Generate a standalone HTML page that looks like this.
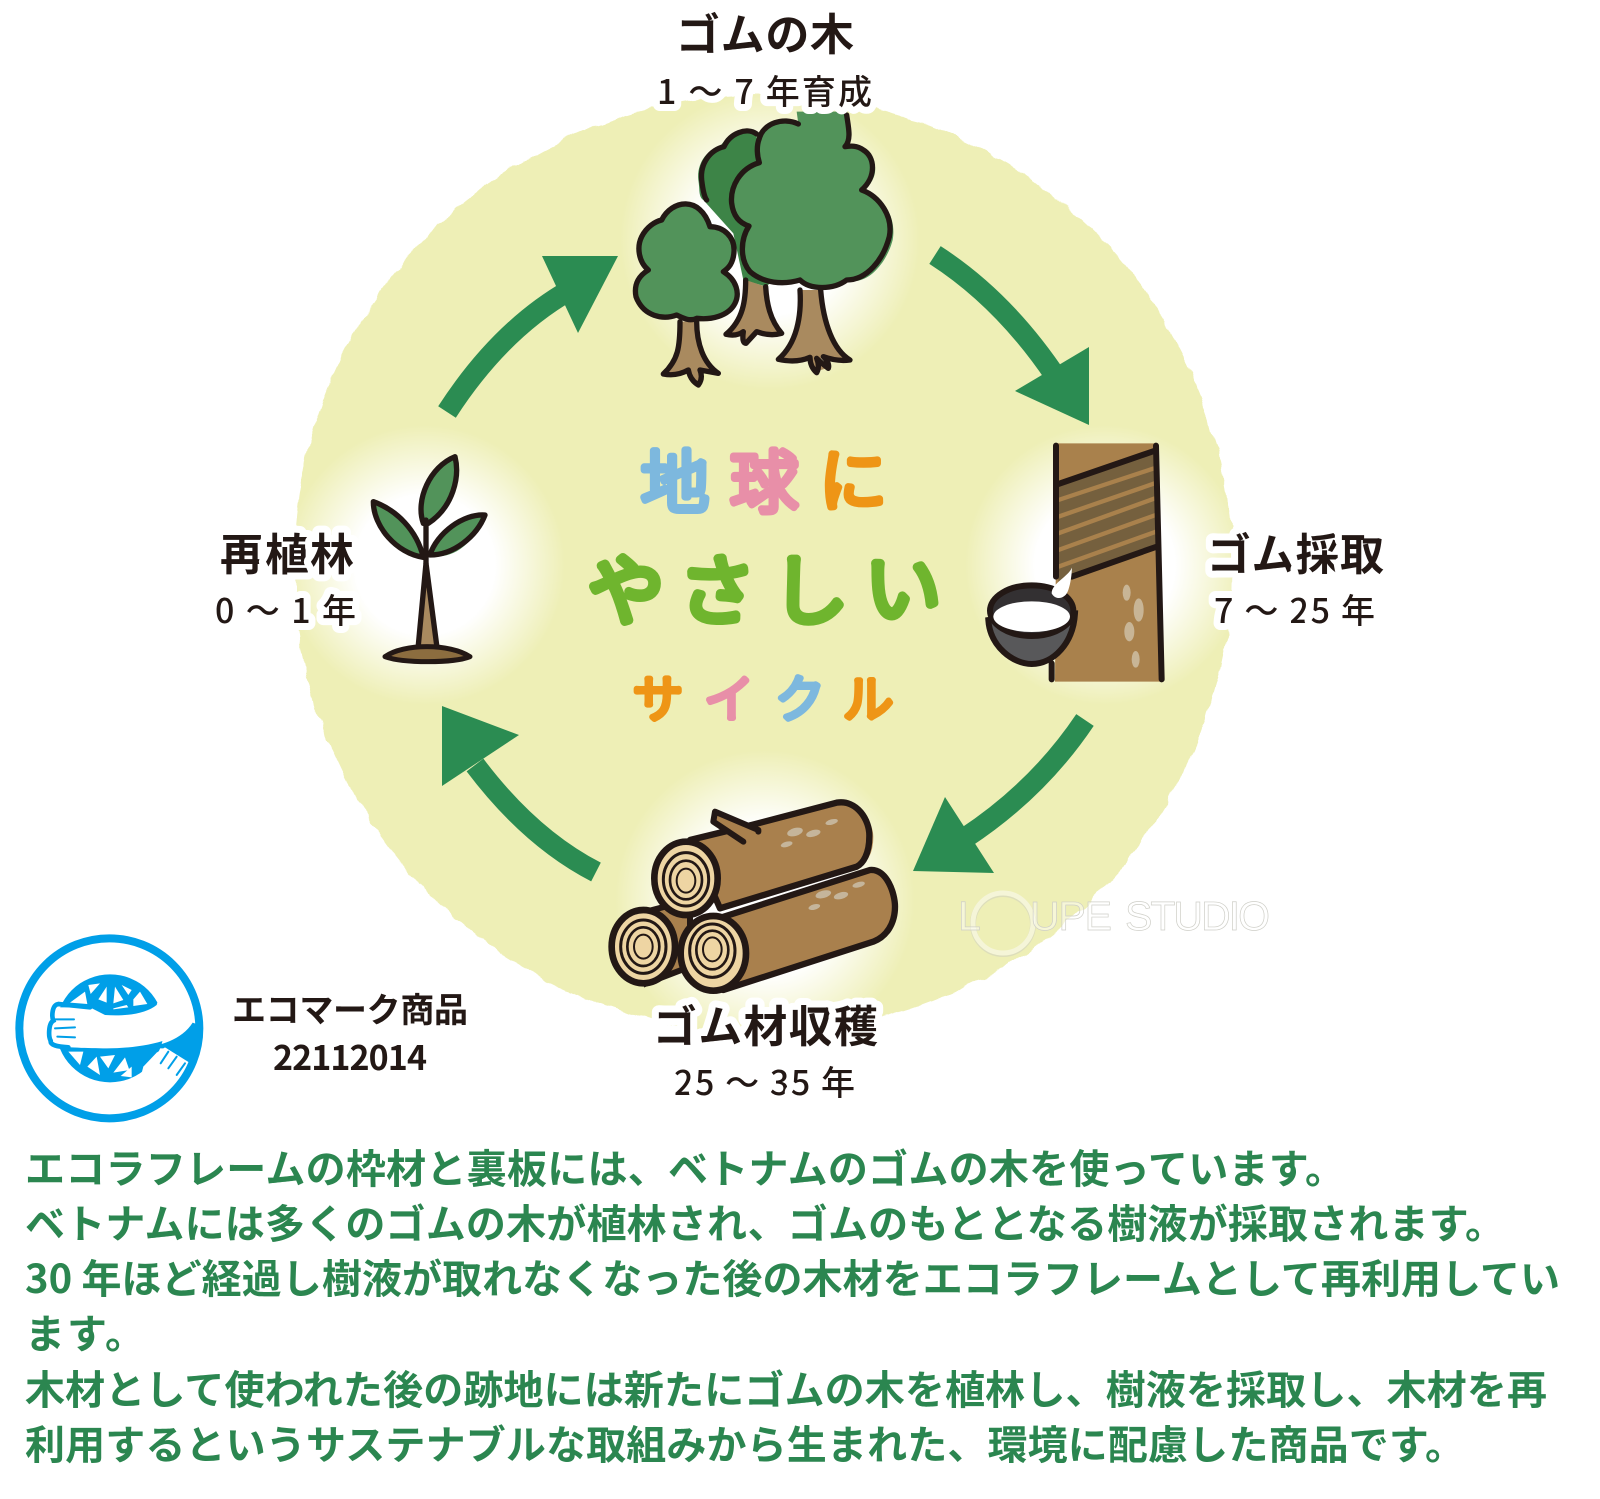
<!DOCTYPE html>
<html lang="ja"><head><meta charset="utf-8"><title>地球にやさしいサイクル</title>
<style>
html,body{margin:0;padding:0;background:#fff;width:1600px;height:1499px;overflow:hidden}
svg{display:block}
text{font-family:"Noto Sans CJK JP","Liberation Sans",sans-serif}
.h{font-size:44px;font-weight:700;fill:#231815;stroke:#fff;stroke-width:14px;paint-order:stroke;stroke-linejoin:round}
.s{font-size:34px;font-weight:500;fill:#231815;stroke:#fff;stroke-width:14px;paint-order:stroke;stroke-linejoin:round}
.b{font-size:40px;font-weight:700;fill:#2b8650}
.k{stroke-linejoin:round;stroke-linecap:round;font-weight:300}
.l{stroke:#231815;stroke-linecap:round;stroke-linejoin:round;fill:none}
.w{font-family:"Liberation Sans",sans-serif;font-size:41px;fill:#fff;fill-opacity:.45;stroke:#cfcfc8;stroke-width:.7}
</style></head><body>
<svg xmlns="http://www.w3.org/2000/svg" width="1600" height="1499" viewBox="0 0 1600 1499">
<defs>
<filter id="rough" filterUnits="userSpaceOnUse" x="260" y="60" width="1020" height="1000">
<feTurbulence type="fractalNoise" baseFrequency="0.05" numOctaves="2" seed="4"/>
<feDisplacementMap in="SourceGraphic" scale="9" xChannelSelector="R" yChannelSelector="G"/>
</filter>
<radialGradient id="glow"><stop offset="0" stop-color="#fff"/><stop offset=".5" stop-color="#fff"/><stop offset="1" stop-color="#fff" stop-opacity="0"/></radialGradient>
</defs>

<circle cx="763" cy="564" r="469" fill="#eeefb6" filter="url(#rough)"/>
<circle cx="770" cy="240" r="150" fill="url(#glow)"/>
<circle cx="1105" cy="565" r="140" fill="url(#glow)"/>
<circle cx="425" cy="565" r="140" fill="url(#glow)"/>
<circle cx="765" cy="900" r="150" fill="url(#glow)"/>

<!-- arrows -->
<g fill="none" stroke="#2b8c52" stroke-width="21">
<path d="M935 255Q1005 300 1058 380"/>
<path d="M1085 720Q1038 790 965 838"/>
<path d="M596 872Q530 838 475 765"/>
<path d="M447 412Q500 330 570 290"/>
</g>
<g fill="#2b8c52">
<polygon points="1089,347 1015,391 1089,425"/>
<polygon points="945,797 913,871 994,873"/>
<polygon points="442,706 519,735 442,786"/>
<polygon points="618,256 542,256 578,333"/>
</g>

<!-- trees -->
<g transform="translate(600 0) scale(.33333)">
<path d="M470 400C440 380 385 400 360 440C320 450 290 490 295 540C300 570 295 590 310 600L400 700L430 840L500 860L640 700L470 500Z" fill="#3d8447"/>
<path class="l" stroke-width="16" d="M470 402C440 380 390 400 372 440C330 450 300 490 305 540C308 565 312 590 320 600"/>
<path d="M437 840C437 900 430 960 378 1000L430 1000L435 1030L470 995L545 1000C510 960 500 910 497 860Z" fill="#a98a5f"/>
<path class="l" stroke-width="16" d="M437 840C437 900 430 960 378 1003Q410 1010 430 995Q425 1030 438 1030L470 995Q510 1010 545 1000C510 960 500 910 497 860"/>
<path d="M600 870C605 950 590 1030 535 1078L630 1075L645 1115L680 1105L660 1075L750 1080C700 1050 670 970 662 870Z" fill="#a98a5f"/>
<path class="l" stroke-width="16" d="M600 870C605 950 590 1030 535 1078Q590 1090 630 1072Q630 1100 650 1118Q660 1100 650 1075Q665 1090 685 1105Q690 1090 670 1070Q710 1085 750 1080C700 1050 670 970 662 870"/>
<path d="M595 372C550 350 490 370 478 415C468 440 472 470 478 488C420 505 390 560 395 610C400 650 420 670 447 678C420 720 420 780 450 815C490 850 550 855 600 840C630 870 700 870 740 840C800 860 860 790 878 720C890 650 850 590 790 570C835 540 840 480 790 450C770 435 750 438 735 440C755 420 745 380 740 335L590 335Z" fill="#52935a"/>
<path class="l" stroke-width="16" d="M595 372C550 350 490 370 478 415C468 440 472 470 478 488C420 505 390 560 395 610C400 650 420 670 447 678C420 720 420 780 450 815C490 850 550 855 600 840C630 870 700 870 740 840C800 840 850 780 868 710C880 650 840 590 785 570C830 530 825 470 790 450C770 435 750 438 735 440C755 420 745 380 740 345"/>
<path d="M240 965C240 1040 235 1080 190 1122L265 1112L295 1155L305 1115L355 1120C310 1090 290 1030 290 965Z" fill="#a98a5f"/>
<path class="l" stroke-width="16" d="M240 965C240 1040 235 1080 190 1122Q230 1130 265 1110Q270 1140 295 1155Q310 1135 300 1110L355 1120C310 1090 290 1030 290 965"/>
<path d="M185 660C215 600 300 585 330 680C370 680 405 710 402 755C400 790 385 805 370 815C410 840 420 880 405 910C385 950 330 960 290 955C270 965 250 955 230 945C190 960 130 950 108 890C100 850 120 825 145 810C115 785 110 740 125 710C140 680 165 665 185 660Z" fill="#52935a" stroke="#231815" stroke-width="16" stroke-linejoin="round"/>
</g>

<!-- tapper -->
<g transform="translate(940 400) scale(.33333)">
<polygon points="350,130 650,130 665,845 345,845" fill="#a9814c"/>
<polygon points="355,255 645,155 650,440 355,545" fill="#75603e"/>
<g stroke="#a9814c" stroke-width="13"><path d="M355 300L642 205M355 350L644 250M355 400L645 295M355 450L647 345M355 500L648 395"/></g>
<g class="l" stroke-width="18"><path d="M348 137V530M335 790V838M648 137L665 838M355 252L645 152M395 530L650 440"/></g>
<g fill="#c8b596"><ellipse cx="560" cy="578" rx="12" ry="24"/><ellipse cx="596" cy="630" rx="15" ry="35"/><ellipse cx="568" cy="695" rx="15" ry="29"/><ellipse cx="587" cy="778" rx="12" ry="25"/></g>
<path d="M145 660C150 740 220 792 275 792C340 792 400 730 405 640L275 640Z" fill="#58585a" stroke="#231815" stroke-width="18"/>
<ellipse cx="275" cy="632" rx="125" ry="76" fill="#333032" stroke="#231815" stroke-width="18"/>
<ellipse cx="275" cy="650" rx="115" ry="46" fill="#fff"/>
<path d="M396 503C385 530 335 550 335 580C345 600 375 600 385 570C392 550 395 525 396 503Z" fill="#fff"/>
</g>

<!-- logs -->
<g transform="translate(580 780) scale(.33333)">
<path d="M180 400L330 360L330 560L200 610Z" fill="#a9804d" stroke="#231815" stroke-width="18"/>
<path d="M405 95L535 150L495 185L395 120Z" fill="#a9804d"/>
<path d="M330 180L515 135L770 68C830 58 880 120 880 170C880 225 860 250 830 262L420 385Z" fill="#c69a63"/>
<path d="M330 180L515 135L770 68C830 58 870 120 868 170C868 220 850 250 830 260L420 385Z" fill="#a9804d" stroke="#231815" stroke-width="19" stroke-linejoin="round"/>
<path d="M405 95L530 150L495 183L395 125Z" fill="#a9804d"/>
<path class="l" stroke-width="18" d="M490 185L400 125L405 95L535 150V155"/>
<path d="M400 420L870 270C920 265 945 340 945 380C945 430 920 470 880 485L430 630Z" fill="#a9804d" stroke="#231815" stroke-width="19" stroke-linejoin="round"/>
<g fill="#c5b59b"><ellipse cx="645" cy="156" rx="24" ry="12" transform="rotate(-15 645 156)"/><ellipse cx="700" cy="160" rx="22" ry="10" transform="rotate(-15 700 160)"/><ellipse cx="755" cy="126" rx="19" ry="8" transform="rotate(-15 755 126)"/><ellipse cx="620" cy="193" rx="18" ry="8" transform="rotate(-15 620 193)"/><ellipse cx="730" cy="343" rx="24" ry="11" transform="rotate(-15 730 343)"/><ellipse cx="783" cy="347" rx="22" ry="10" transform="rotate(-15 783 347)"/><ellipse cx="836" cy="314" rx="19" ry="8" transform="rotate(-15 836 314)"/><ellipse cx="703" cy="381" rx="18" ry="8" transform="rotate(-15 703 381)"/></g>
<g stroke="#231815" fill="#eed5a3">
<ellipse cx="190" cy="500" rx="95" ry="110" stroke-width="20"/><ellipse cx="190" cy="500" rx="68" ry="80" stroke-width="9"/><ellipse cx="190" cy="500" rx="48" ry="58" stroke-width="8"/><ellipse cx="190" cy="500" rx="28" ry="36" stroke-width="6"/>
<ellipse cx="318" cy="295" rx="95" ry="110" stroke-width="20"/><ellipse cx="318" cy="298" rx="68" ry="80" stroke-width="9"/><ellipse cx="318" cy="300" rx="48" ry="58" stroke-width="8"/><ellipse cx="318" cy="302" rx="28" ry="36" stroke-width="6"/>
<ellipse cx="400" cy="520" rx="98" ry="112" stroke-width="20"/><ellipse cx="397" cy="512" rx="68" ry="80" stroke-width="9"/><ellipse cx="397" cy="510" rx="48" ry="58" stroke-width="8"/><ellipse cx="397" cy="508" rx="28" ry="36" stroke-width="6"/>
</g>
</g>

<!-- sapling -->
<g transform="translate(190 440) scale(.33333)">
<path d="M690 615L712 370L735 615Z" fill="#a98a5f"/>
<path class="l" stroke-width="16" d="M685 615L708 370L740 615"/>
<path d="M585 650C640 610 780 610 840 650C790 670 640 670 585 650Z" fill="#8c6d3f" stroke="#231815" stroke-width="15" stroke-linejoin="round"/>
<path d="M700 250C675 180 720 80 795 50C810 110 790 200 715 250Z" fill="#52935a" stroke="#231815" stroke-width="16" stroke-linejoin="round"/>
<path d="M700 352C620 340 550 260 550 185C620 210 680 270 700 352Z" fill="#52935a" stroke="#231815" stroke-width="16" stroke-linejoin="round"/>
<path d="M720 345C740 280 820 220 885 225C860 300 790 365 720 345Z" fill="#52935a"/>
<path class="l" stroke-width="16" d="M720 345C740 280 820 220 885 225C860 290 790 345 720 345ZM708 370V240"/>
</g>

<!-- center title -->
<g class="k">
<g font-size="68" text-anchor="middle" stroke-width="7">
<text x="675" y="507" fill="#7db8de" stroke="#7db8de">地</text>
<text x="764" y="507" fill="#e88fa8" stroke="#e88fa8">球</text>
<text x="853" y="505" fill="#ee9516" stroke="#ee9516">に</text>
</g>
<g font-size="76" text-anchor="middle" stroke-width="9" fill="#6fb52e" stroke="#6fb52e">
<text x="626" y="618">や</text><text x="717" y="618">さ</text><text x="810" y="618">し</text><text x="903" y="616">い</text>
</g>
<g font-size="50" text-anchor="middle" stroke-width="6">
<text x="658" y="717" fill="#ee9516" stroke="#ee9516">サ</text>
<text x="729" y="717" fill="#e88fa8" stroke="#e88fa8">イ</text>
<text x="800" y="717" fill="#7db8de" stroke="#7db8de">ク</text>
<text x="868" y="717" fill="#ee9516" stroke="#ee9516">ル</text>
</g>
</g>

<!-- labels -->
<text class="h" x="676" y="50" textLength="178">ゴムの木</text>
<text class="s" x="657" y="104" textLength="215">1 ～ 7 年育成</text>
<text class="h" x="1207" y="570" textLength="177">ゴム採取</text>
<text class="s" x="1214" y="623" textLength="161">7 ～ 25 年</text>
<text class="h" x="220" y="570" textLength="134">再植林</text>
<text class="s" x="215" y="623" textLength="141">0 ～ 1 年</text>
<text class="h" x="653" y="1042" textLength="225">ゴム材収穫</text>
<text class="s" x="674" y="1095" textLength="181">25 ～ 35 年</text>

<!-- watermark -->
<g>
<circle cx="1003" cy="924" r="30" fill="none" stroke="#cfcfc0" stroke-width="6" opacity=".55"/>
<circle cx="1003" cy="923" r="30" fill="none" stroke="#f5f5d8" stroke-width="5"/>
<text class="w" x="958" y="930">L</text>
<text class="w" x="1030" y="930" textLength="82">UPE</text>
<text class="w" x="1125" y="930" textLength="145">STUDIO</text>
</g>

<!-- eco mark -->
<g transform="translate(0 920) scale(.33333)">
<circle cx="330" cy="325" r="162" fill="#009fe8"/>
<g fill="#fff">
<polygon points="210,248 255,215 262,252"/><polygon points="265,195 300,190 272,222"/><polygon points="295,238 320,200 320,248"/><polygon points="345,200 370,240 340,250"/><polygon points="365,195 395,210 385,225"/><polygon points="400,238 420,215 442,252 400,258"/><polygon points="340,265 380,255 385,262 340,268"/>
<polygon points="205,395 250,395 240,435"/><polygon points="262,440 290,410 300,465"/><polygon points="300,410 345,405 325,445"/><polygon points="340,458 375,412 388,450"/><polygon points="362,468 395,440 395,472"/>
<path d="M150 262L270 262L315 285C380 290 440 280 470 255L590 250L580 310C540 360 430 385 320 385C260 385 200 382 170 378L150 350Z"/>
<path d="M470 255L500 150L590 250Z"/>
</g>
<path d="M578 308C545 360 480 378 420 385L500 385L560 440C592 400 608 360 606 318Z" fill="#009fe8"/>
<path d="M430 440L470 398L495 382L572 430L525 472L420 478Z" fill="#fff"/>
<g fill="none" stroke="#009fe8" stroke-linecap="round">
<path d="M270 262L175 252C155 255 155 290 160 302C145 310 145 350 152 362C150 375 170 380 205 382" stroke-width="14"/>
<path d="M165 298H222M165 325L225 322M172 350L225 352" stroke-width="6"/>
<path d="M482 430L505 395M505 445L530 410M530 465L555 430" stroke-width="6"/>
</g>
<circle cx="328" cy="325" r="270" fill="none" stroke="#009fe8" stroke-width="24"/>
</g>
<text x="232" y="1022" font-size="34" font-weight="700" fill="#231815" textLength="236">エコマーク商品</text>
<text x="273" y="1070" font-size="34" font-weight="700" fill="#231815" textLength="154">22112014</text>

<!-- body -->
<text class="b" x="25" y="1183" textLength="1320">エコラフレームの枠材と裏板には、ベトナムのゴムの木を使っています。</text>
<text class="b" x="25" y="1238" textLength="1480">ベトナムには多くのゴムの木が植林され、ゴムのもととなる樹液が採取されます。</text>
<text class="b" x="25" y="1293" textLength="1535">30 年ほど経過し樹液が取れなくなった後の木材をエコラフレームとして再利用してい</text>
<text class="b" x="25" y="1348" textLength="120">ます。</text>
<text class="b" x="25" y="1404" textLength="1522">木材として使われた後の跡地には新たにゴムの木を植林し、樹液を採取し、木材を再</text>
<text class="b" x="25" y="1459" textLength="1440">利用するというサステナブルな取組みから生まれた、環境に配慮した商品です。</text>
</svg>
</body></html>
